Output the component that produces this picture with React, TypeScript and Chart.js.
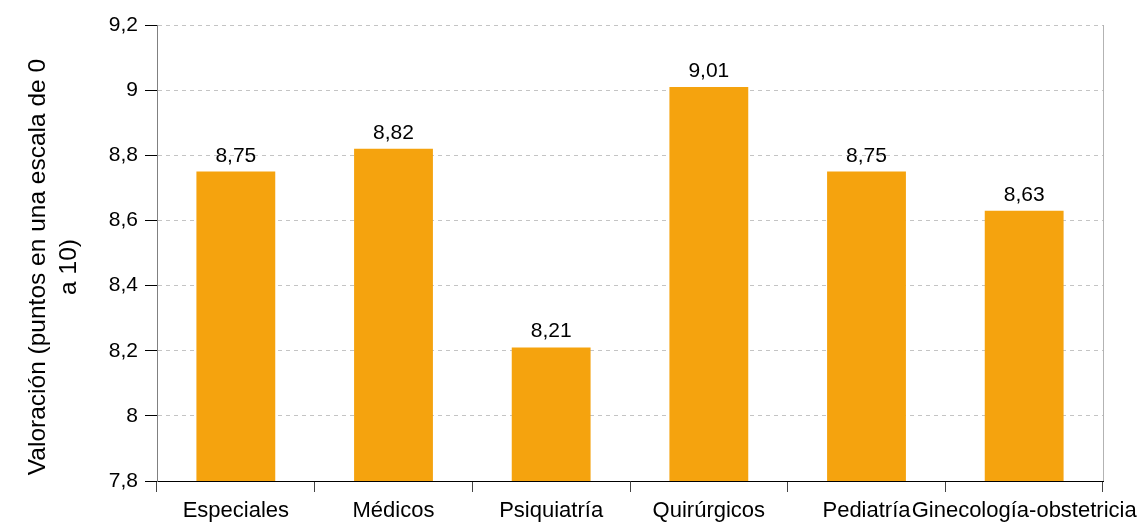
import React, { useEffect, useRef } from "react";
import { Chart, registerables } from "chart.js";

Chart.register(...registerables);

const categories = ["Especiales", "Médicos", "Psiquiatría", "Quirúrgicos", "Pediatría", "Ginecología-obstetricia"];
const values = [8.75, 8.82, 8.21, 9.01, 8.75, 8.63];
const yMin = 7.8;
const yMax = 9.2;
const yStep = 0.2;
const yTitle = ["Valoración (puntos en una escala de 0", "a 10)"];

const FONT = "'Liberation Sans', Arial, sans-serif";
const fmt = (v: number, d: number) => v.toFixed(d).replace(".", ",");

const valueLabels = {
  id: "valueLabels",
  afterDatasetsDraw(chart: any) {
    const ctx = chart.ctx;
    const meta = chart.getDatasetMeta(0);
    ctx.save();
    ctx.font = `21px ${FONT}`;
    ctx.fillStyle = "#000";
    ctx.textAlign = "center";
    ctx.textBaseline = "alphabetic";
    meta.data.forEach((bar: any, i: number) => {
      ctx.fillText(fmt(values[i], 2), bar.x, bar.y - 10);
    });
    ctx.restore();
  },
};

const yTitlePlugin = {
  id: "yTitlePlugin",
  afterDraw(chart: any) {
    const { ctx, chartArea } = chart;
    const cy = (chartArea.top + chartArea.bottom) / 2 + 14;
    ctx.save();
    ctx.font = `24.5px ${FONT}`;
    ctx.fillStyle = "#000";
    ctx.textAlign = "center";
    ctx.textBaseline = "alphabetic";
    yTitle.forEach((line, i) => {
      ctx.save();
      ctx.translate(45 + i * 31, cy);
      ctx.rotate(-Math.PI / 2);
      ctx.fillText(line, 0, 0);
      ctx.restore();
    });
    ctx.restore();
  },
};

const rightBorder = {
  id: "rightBorder",
  beforeDatasetsDraw(chart: any) {
    const { ctx, chartArea } = chart;
    ctx.save();
    ctx.strokeStyle = "#b3b3b3";
    ctx.lineWidth = 1;
    ctx.beginPath();
    ctx.moveTo(chartArea.right + 0.5, chartArea.top);
    ctx.lineTo(chartArea.right + 0.5, chartArea.bottom);
    ctx.stroke();
    ctx.restore();
  },
};

export default function App() {
  const ref = useRef<HTMLCanvasElement>(null);
  useEffect(() => {
    if (!ref.current) return;
    const chart = new Chart(ref.current, {
      type: "bar",
      data: {
        labels: categories,
        datasets: [
          {
            data: values,
            backgroundColor: "#F5A30E",
            barPercentage: 0.5,
            categoryPercentage: 1,
          },
        ],
      },
      options: {
        animation: false,
        responsive: false,
        maintainAspectRatio: false,
        layout: { padding: { top: 25, right: 35, left: 0, bottom: 0 } },
        plugins: { legend: { display: false }, tooltip: { enabled: false } },
        scales: {
          x: {
            afterFit: (s: any) => {
              s.height = 41;
              s.paddingLeft = 0;
              s.paddingRight = 0;
            },
            border: { color: "#000", width: 1 },
            grid: {
              offset: true,
              drawOnChartArea: false,
              tickLength: 11,
              tickColor: "#444",
            },
            ticks: {
              color: "#000",
              font: { family: FONT, size: 22 },
              padding: 6,
              maxRotation: 0,
              autoSkip: false,
            },
          },
          y: {
            min: yMin,
            max: yMax,
            afterFit: (s: any) => {
              s.width = 157;
              s.paddingTop = 0;
              s.paddingBottom = 0;
            },
            border: { color: "#808080", width: 1, dash: [4, 4] } as any,
            grid: {
              color: "#c4c4c4",
              tickLength: 12,
              tickColor: "#000",
              tickBorderDash: [],
            } as any,
            ticks: {
              stepSize: yStep,
              color: "#000",
              font: { family: FONT, size: 21 },
              padding: 7,
              callback: (v: any) => {
                const n = Math.round(Number(v) * 10) / 10;
                return Number.isInteger(n) ? String(n) : fmt(n, 1);
              },
            },
            title: { display: false },
          },
        },
      },
      plugins: [valueLabels, rightBorder, yTitlePlugin],
    });
    return () => chart.destroy();
  }, []);
  return (
    <div style={{ position: "absolute", left: 0, top: 0, width: 1138, height: 522, background: "#fff" }}>
      <canvas ref={ref} width={1138} height={522} style={{ display: "block" }} />
    </div>
  );
}
